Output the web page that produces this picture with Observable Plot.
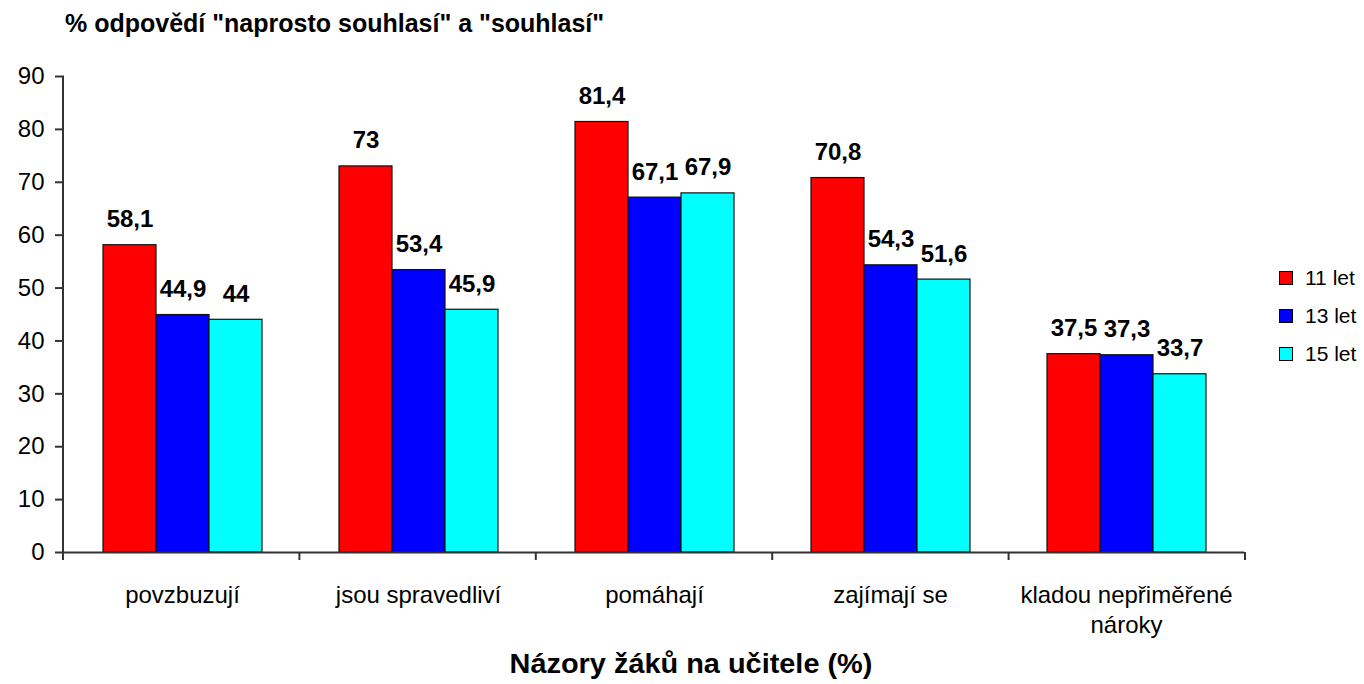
<!DOCTYPE html>
<html>
<head>
<meta charset="utf-8">
<script src="https://cdn.jsdelivr.net/npm/d3@7"></script>
<script src="https://cdn.jsdelivr.net/npm/@observablehq/plot@0.6"></script>
<style>
  html, body { margin: 0; padding: 0; background: #fff; }
  #wrap { position: relative; width: 1364px; height: 684px; font-family: "Liberation Sans", Arial, sans-serif; color: #000; overflow: hidden; }
  #chart { position: absolute; left: 0; top: 0; }
  #title { position: absolute; left: 65px; top: 11px; font-size: 25px; font-weight: bold; line-height: 1; white-space: nowrap; }
  #xtitle { position: absolute; left: 691px; top: 651px; font-size: 27px; font-weight: bold; line-height: 1; white-space: nowrap; transform: translateX(-50%) scaleX(1.07); }
  .leg { position: absolute; left: 1279px; font-size: 21px; line-height: 1; white-space: nowrap; }
  .leg .sw { position: absolute; left: 0; width: 12px; height: 12px; border: 1px solid #000; }
  .leg .lb { position: absolute; left: 26px; top: 0; }
</style>
</head>
<body>
<div id="wrap">
  <div id="chart"></div>
  <div id="title"></div>
  <div id="xtitle"></div>
  <div id="legend"></div>
</div>
<script>
// ---- data ----
const categories = ["povzbuzují", "jsou spravedliví", "pomáhají", "zajímají se", "kladou nepřiměřené nároky"];
const categoryLabels = ["povzbuzují", "jsou spravedliví", "pomáhají", "zajímají se", "kladou nepřiměřené\nnároky"];
const series = ["11 let", "13 let", "15 let"];
const values11 = [58.1, 73, 81.4, 70.8, 37.5];
const values13 = [44.9, 53.4, 67.1, 54.3, 37.3];
const values15 = [44, 45.9, 67.9, 51.6, 33.7];
const seriesColors = ["#ff0000", "#0000ff", "#00ffff"];
const yTicks = [0, 10, 20, 30, 40, 50, 60, 70, 80, 90];
const titleText = "% odpovědí \"naprosto souhlasí\" a \"souhlasí\"";
const xTitleText = "Názory žáků na učitele (%)";

// ---- build table ----
const seriesValues = [values11, values13, values15];
const data = [];
categories.forEach((c, i) => {
  series.forEach((s, j) => data.push({cat: c, series: s, value: seriesValues[j][i]}));
});
const labelOf = new Map(categories.map((c, i) => [c, categoryLabels[i]]));
const fmt = v => String(v).replace(".", ",");

const plot = Plot.plot({
  width: 1364,
  height: 684,
  marginLeft: 63,
  marginRight: 119,
  marginTop: 76,
  marginBottom: 132,
  style: {fontFamily: "'Liberation Sans', Arial, sans-serif", fontSize: "24px", color: "#000", background: "transparent", overflow: "visible"},
  fx: {domain: categories, padding: 0, label: null},
  x: {domain: series, paddingInner: 0, paddingOuter: 0.72, axis: null},
  y: {domain: [0, 90], label: null},
  color: {domain: series, range: seriesColors},
  marks: [
    Plot.barY(data, {fx: "cat", x: "series", y: "value", fill: "series", stroke: "#111", strokeWidth: 1.2}),
    Plot.text(data, {fx: "cat", x: "series", y: "value", text: d => fmt(d.value), dy: -18, lineAnchor: "bottom", fontWeight: "bold", fontSize: 24, fill: "#000"}),
    Plot.ruleY([0], {stroke: "#333", strokeWidth: 2}),
    Plot.axisY({ticks: yTicks, tickSize: 9, tickPadding: 11, fontSize: 24, stroke: "#333", strokeWidth: 2, fill: "#000", label: null}),
    Plot.axisFx({anchor: "bottom", tickSize: 0, tickPadding: 29, fontSize: 24, lineHeight: 1.25, fill: "#000", tickFormat: d => labelOf.get(d), label: null})
  ]
});
document.getElementById("chart").appendChild(plot);

// axis line and category boundary ticks, placed from Plot's own scales
const fxS = plot.scale("fx");
const yS = plot.scale("y");
const yPix = d3.scaleLinear().domain(yS.domain).range(yS.range);
const band = d3.scaleBand().domain(fxS.domain).range(fxS.range).paddingInner(0).paddingOuter(0);
const svg = d3.select(plot);
const g = svg.append("g").attr("stroke", "#333").attr("stroke-width", 2);
g.append("line")
  .attr("x1", band.range()[0]).attr("x2", band.range()[0])
  .attr("y1", yPix(yTicks[0]) + 1).attr("y2", yPix(yTicks[yTicks.length - 1]));
const bounds = categories.map(c => band(c)).concat([band(categories[categories.length - 1]) + band.step()]);
g.selectAll("line.b").data(bounds).join("line").attr("class", "b")
  .attr("x1", d => d).attr("x2", d => d)
  .attr("y1", yPix(0)).attr("y2", yPix(0) + 8);

// titles and legend
document.getElementById("title").textContent = titleText;
document.getElementById("xtitle").textContent = xTitleText;
const legend = document.getElementById("legend");
const legendTops = [267, 305, 343];
series.forEach((s, i) => {
  const row = document.createElement("div");
  row.className = "leg";
  row.style.top = legendTops[i] + "px";
  const sw = document.createElement("div");
  sw.className = "sw";
  sw.style.background = seriesColors[i];
  sw.style.top = "4px";
  const lb = document.createElement("div");
  lb.className = "lb";
  lb.textContent = s;
  row.appendChild(sw);
  row.appendChild(lb);
  legend.appendChild(row);
});
</script>
</body>
</html>
